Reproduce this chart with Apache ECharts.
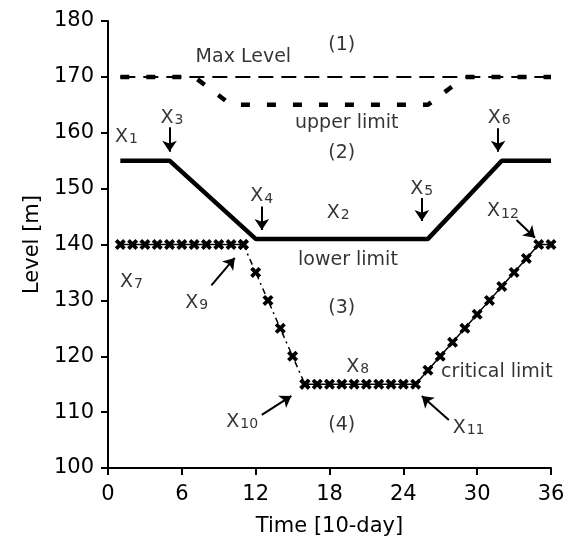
<!DOCTYPE html>
<html>
<head>
<meta charset="utf-8">
<script src="https://cdn.jsdelivr.net/npm/echarts@6/dist/echarts.min.js"></script>
<style>
  html, body { margin: 0; padding: 0; background: #fff; }
  #chart { width: 579px; height: 548px; }
</style>
</head>
<body>
<div id="chart"></div>
<script>
// x = time [10-day], y = level [m]
const maxLevelX = [1, 36];
const maxLevelY = [170, 170];

const upperX = [1, 7, 10, 26, 29, 36];
const upperY = [170, 170, 165, 165, 170, 170];

const ruleX = [1, 5, 12, 26, 32, 36];
const ruleY = [155, 155, 141, 141, 155, 155];

// critical limit, marked points
const critFlatX = [1, 2, 3, 4, 5, 6, 7, 8, 9, 10, 11];
const critFlatY = [140, 140, 140, 140, 140, 140, 140, 140, 140, 140, 140];
const critDropX = [11, 12, 13, 14, 15, 16];
const critDropY = [140, 135, 130, 125, 120, 115];
const critRiseX = [16, 17, 18, 19, 20, 21, 22, 23, 24, 25, 26, 27, 28, 29, 30, 31, 32, 33, 34, 35, 36];
const critRiseY = [115, 115, 115, 115, 115, 115, 115, 115, 115, 115, 117.5, 120, 122.5, 125, 127.5, 130, 132.5, 135, 137.5, 140, 140];

const xTicks = [0, 6, 12, 18, 24, 30, 36];
const yTicks = [100, 110, 120, 130, 140, 150, 160, 170, 180];

// text notes ("X_n" = X with subscript n)
const noteText = ['Max Level', '(1)', 'upper limit', '(2)', 'X_1', 'X_3', 'X_4', 'X_2', 'X_5', 'X_6', 'X_12',
  'lower limit', 'X_7', 'X_9', '(3)', 'X_8', 'X_10', '(4)', 'critical limit', 'X_11'];
const noteX = [11.0, 19.0, 19.4, 19.0, 1.5, 5.2, 12.5, 18.7, 25.5, 31.8, 32.1,
  19.5, 1.9, 7.2, 19.0, 20.3, 10.9, 19.0, 31.6, 29.3];
const noteY = [173.6, 175.7, 161.7, 156.3, 159.2, 162.6, 148.6, 145.6, 150.0, 162.6, 145.9,
  137.3, 133.3, 129.5, 128.6, 118.1, 108.3, 107.7, 117.2, 107.1];

// arrows: from -> to
const arrowFrom = [[5, 161], [12.5, 146.8], [25.5, 148.3], [31.7, 160.8], [33.2, 144.4], [8.4, 132.7], [12.5, 109.5], [27.7, 108.6]];
const arrowTo = [[5, 156.6], [12.5, 142.6], [25.5, 144.2], [31.7, 156.6], [34.7, 141.2], [10.3, 137.6], [14.9, 112.9], [25.5, 112.9]];

const pairs = (xs, ys) => xs.map((x, i) => [x, ys[i]]);
const font = 'DejaVu Sans, Verdana, sans-serif';
const xMark = 'path://M0,2.4 L2.4,0 L5,2.6 L7.6,0 L10,2.4 L7.4,5 L10,7.6 L7.6,10 L5,7.4 L2.4,10 L0,7.6 L2.6,5 Z';

function noteLabel(t) {
  if (t.indexOf('X_') === 0) {
    return '{x|X}{s|' + t.slice(2) + '}';
  }
  return '{n|' + t + '}';
}

let myChart = echarts.init(document.getElementById('chart'));
let option = {
  animation: false,
  grid: {
    left: 108,
    right: 28,
    top: 21,
    bottom: 80,
    outerBoundsMode: 'none',
    containLabel: false
  },
  xAxis: {
    type: 'value',
    min: 0,
    max: 36,
    interval: 6,
    name: 'Time [10-day]',
    nameLocation: 'middle',
    nameGap: 48,
    nameTextStyle: { fontFamily: font, fontSize: 21, color: '#000' },
    axisLine: { show: true, onZero: false, lineStyle: { color: '#000', width: 2 } },
    axisTick: { show: true, length: 7, lineStyle: { color: '#000', width: 2 } },
    axisLabel: {
      fontFamily: font, fontSize: 21, color: '#000', margin: 16,
      formatter: v => xTicks.includes(v) ? String(v) : ''
    },
    splitLine: { show: false }
  },
  yAxis: {
    type: 'value',
    min: 100,
    max: 180,
    interval: 10,
    name: 'Level [m]',
    nameLocation: 'middle',
    nameGap: 64,
    nameTextStyle: { fontFamily: font, fontSize: 21, color: '#000' },
    axisLine: { show: true, onZero: false, lineStyle: { color: '#000', width: 2 } },
    axisTick: { show: true, length: 7, lineStyle: { color: '#000', width: 2 } },
    axisLabel: {
      fontFamily: font, fontSize: 21, color: '#000', margin: 14,
      formatter: v => yTicks.includes(v) ? String(v) : ''
    },
    splitLine: { show: false }
  },
  series: [
    {
      name: 'Max Level', type: 'line', showSymbol: false, silent: true,
      data: pairs(maxLevelX, maxLevelY),
      lineStyle: { color: '#000', width: 2, type: [15, 8] }
    },
    {
      name: 'upper limit', type: 'line', showSymbol: false, silent: true,
      data: pairs(upperX, upperY),
      lineStyle: { color: '#000', width: 4.5, type: [9, 17] }
    },
    {
      name: 'rule', type: 'line', showSymbol: false, silent: true,
      data: pairs(ruleX, ruleY),
      lineStyle: { color: '#000', width: 4.5 }
    },
    {
      name: 'critical flat', type: 'line', symbol: xMark, symbolSize: 11, silent: true,
      data: pairs(critFlatX, critFlatY),
      itemStyle: { color: '#000' },
      lineStyle: { color: '#000', width: 1.5 }
    },
    {
      name: 'critical drop', type: 'line', symbol: xMark, symbolSize: 11, silent: true,
      data: pairs(critDropX, critDropY),
      itemStyle: { color: '#000' },
      lineStyle: { color: '#000', width: 1.5, type: [6, 4, 2, 4] }
    },
    {
      name: 'critical rise', type: 'line', symbol: xMark, symbolSize: 11, silent: true,
      data: pairs(critRiseX, critRiseY),
      itemStyle: { color: '#000' },
      lineStyle: { color: '#000', width: 1.5 }
    },
    {
      name: 'arrows', type: 'lines', coordinateSystem: 'cartesian2d', silent: true,
      symbol: ['none', 'arrow'], symbolSize: 11,
      lineStyle: { color: '#000', width: 2, opacity: 1, curveness: 0 },
      data: arrowFrom.map((p, i) => ({ coords: [p, arrowTo[i]] }))
    },
    {
      name: 'notes', type: 'scatter', symbolSize: 1, silent: true,
      itemStyle: { color: 'rgba(0,0,0,0)' },
      data: noteText.map((t, i) => [noteX[i], noteY[i], t]),
      label: {
        show: true, position: 'inside',
        color: '#000',
        formatter: p => noteLabel(p.data[2]),
        rich: {
          n: { fontFamily: font, fontSize: 19, color: '#000' },
          x: { fontFamily: font, fontSize: 19, color: '#000', lineHeight: 19, verticalAlign: 'top' },
          s: { fontFamily: font, fontSize: 14, color: '#000', lineHeight: 14, verticalAlign: 'bottom', padding: [10, 0, 0, 1] }
        }
      }
    }
  ]
};
myChart.setOption(option);
</script>
</body>
</html>
